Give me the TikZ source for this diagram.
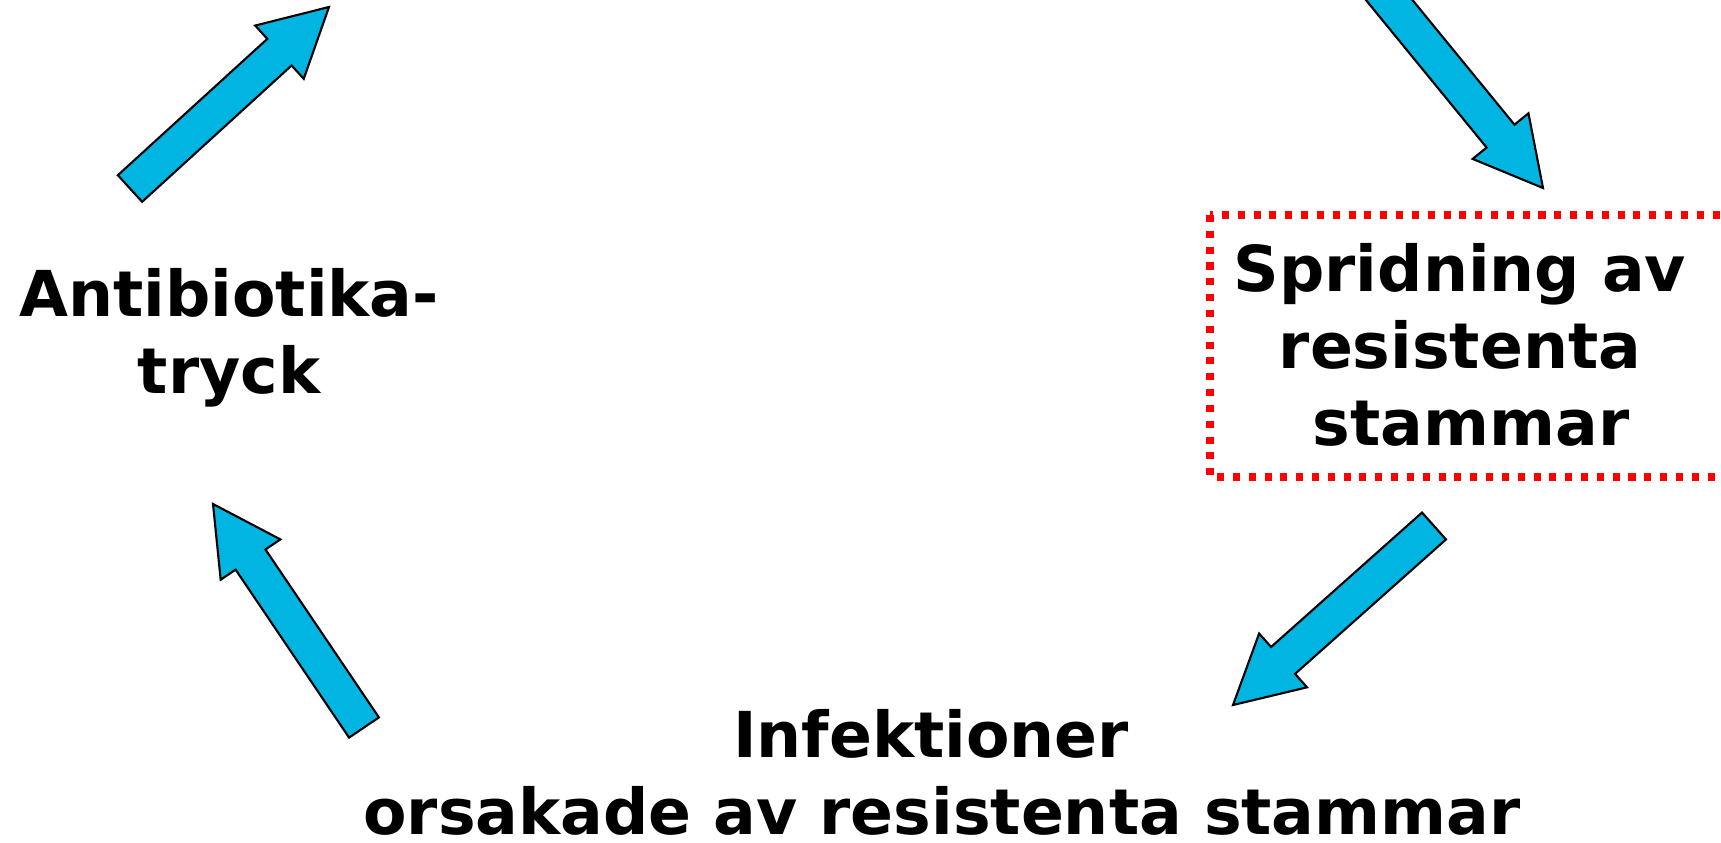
\documentclass[tikz,border=0pt]{standalone}
\usepackage{xcolor}
\usepackage{fontspec}
\setmainfont{DejaVu Sans}
\usepackage{tikz}
\usetikzlibrary{positioning,calc}

\definecolor{arrowblue}{HTML}{00B5E2}
\definecolor{dotred}{HTML}{FF0000}

\tikzset{
    label text/.style={font=\fontsize{18}{21.9}\selectfont\bfseries, align=center, inner sep=0pt},
    fat arrow/.style={fill=arrowblue, draw=black, line width=0.6pt, line join=miter},
    dotted box/.style={draw=dotred, line width=2pt, dash pattern=on 2pt off 2.5pt}
}

% block arrow from tail coordinate #1 to tip coordinate #2
\newcommand{\blockarrow}[2]{%
    \coordinate (hb) at ($(#2)!0.67cm!(#1)$);
    \draw[fat arrow] ($(#1)!0.18cm!90:(#2)$) -- ($(hb)!0.18cm!90:(#2)$)
        -- ($(hb)!0.36cm!90:(#2)$) -- (#2) -- ($(hb)!0.36cm!-90:(#2)$)
        -- ($(hb)!0.18cm!-90:(#2)$) -- ($(#1)!0.18cm!-90:(#2)$) -- cycle;
}
% blank kept at a line end or start
\newcommand{\keptspace}{\hspace*{0.35em}}

\begin{document}
\begin{tikzpicture}[x=0.01cm, y=-0.01cm]
    % Canvas
    \fill[white] (0,0) rectangle (1721,842);
    \clip (0,0) rectangle (1721,842);

    % Labels
    \node[label text] (pressure) at (229,338) {Antibiotika-\\tryck};
    \node[label text] (spread) at (1460,345) {Spridning av\\resistenta\\\keptspace stammar};
    \node[label text] (infect) at (942,772)
        {Infektioner\keptspace\\orsakade av resistenta stammar};

    % Dotted frame round the spread label
    \draw[dotted box] (1210,215) rectangle (1725,477);

    % Arrow ends
    \coordinate (a1t) at (130,188.5);  \coordinate (a1h) at (329,7);
    \coordinate (a2t) at (1372,-21);   \coordinate (a2h) at (1543,188);
    \coordinate (a3t) at (1434,526);   \coordinate (a3h) at (1233,705);
    \coordinate (a4t) at (364,727.5);  \coordinate (a4h) at (213,504);

    % Arrows of the cycle
    \foreach \t/\h in {a1t/a1h, a2t/a2h, a3t/a3h, a4t/a4h}
        \blockarrow{\t}{\h};
\end{tikzpicture}
\end{document}
